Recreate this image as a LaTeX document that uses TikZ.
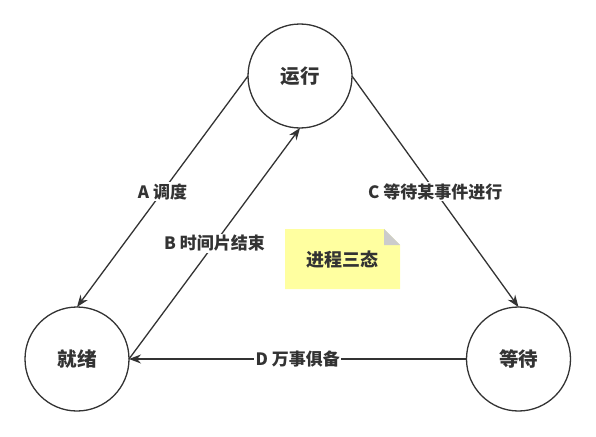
\documentclass[tikz,border=0pt]{standalone}
\usepackage{fontspec}
\setmainfont{Noto Sans CJK SC}
\usetikzlibrary{arrows.meta}
\definecolor{ink}{HTML}{333333}
\definecolor{notey}{HTML}{FFFFA0}
\definecolor{notefold}{HTML}{CCCCCC}
\begin{document}
\begin{tikzpicture}[x=1pt,y=-1pt,
  state/.style={circle,draw=ink,line width=1.3pt,minimum size=104pt,inner sep=0pt,outer sep=0pt,
    font=\fontsize{19.5}{22}\selectfont\bfseries,text=ink},
  conn/.style={draw=ink,line width=1.3pt,-{Stealth[length=12pt,width=9pt]}},
  lbl/.style={fill=white,inner sep=1.5pt,font=\fontsize{17}{19}\selectfont\bfseries,text=ink}]
\useasboundingbox (0,0) rectangle (596,436);
\node[state] (run) at (300,76) {运行};
\node[state] (ready) at (77,359) {就绪};
\node[state] (wait) at (518.5,359) {等待};
% note
\fill[notey] (285,229) -- (384,229) -- (400,245) -- (400,289) -- (285,289) -- cycle;
\fill[notefold] (384,229) -- (384,245) -- (400,245) -- cycle;
\node[font=\fontsize{18}{20}\selectfont\bfseries,text=ink] (note) at (342.5,259.5) {进程三态};
% connectors
\draw[conn] (run.west) -- node[lbl] (la) {A 调度} (ready.north);
\draw[conn] (ready.east) -- node[lbl] (lb) {B 时间片结束} (run.south);
\draw[conn] (run.east) -- node[lbl] (lc) {C 等待某事件进行} (wait.north);
\draw[conn] (wait.west) -- node[lbl] (ld) {D 万事俱备} (ready.east);
\end{tikzpicture}
\end{document}
